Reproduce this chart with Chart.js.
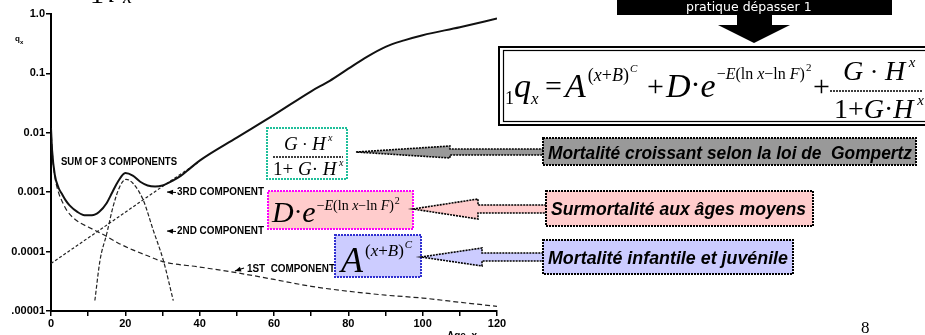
<!DOCTYPE html>
<html>
<head>
<meta charset="utf-8">
<script src="https://cdn.jsdelivr.net/npm/chart.js@4.4.1/dist/chart.umd.min.js"></script>
<style>
  html, body { margin: 0; padding: 0; background: #fff; overflow: hidden; }
  canvas { display: block; }
</style>
</head>
<body>
<canvas id="hpChart" width="925" height="335"></canvas>
<script>
// Heligman-Pollard q_x and its three components
const sumAges = [0, 0.3, 1, 2, 3, 4, 5, 7, 9, 11, 13, 15, 16.5, 18, 20, 22, 24, 26, 28, 30, 33, 35, 37, 40, 50, 60, 70, 75, 80, 85, 90, 95, 100, 110, 120];
const sumQx = [0.012, 0.005, 0.002, 0.0012, 0.00092, 0.00072, 0.0006, 0.00047, 0.00041, 0.00041, 0.00047, 0.00066, 0.001, 0.0015, 0.0021, 0.0019, 0.0015, 0.0013, 0.00125, 0.0013, 0.0016, 0.0019, 0.0024, 0.0034, 0.0083, 0.02, 0.05, 0.075, 0.12, 0.19, 0.28, 0.36, 0.44, 0.6, 0.84];

const firstAges = [0, 0.3, 1, 2, 3, 4.2, 6, 8, 10, 12.3, 15, 18, 22, 26, 30, 40, 50, 60, 70, 80, 90, 100, 110, 120];
const firstQx = [0.012, 0.005, 0.0019, 0.001, 0.0007, 0.0005, 0.00037, 0.0003, 0.00026, 0.00022, 0.00018, 0.00014, 0.000107, 0.000085, 0.000068, 0.000055, 0.000044, 0.000034, 0.000026, 0.0000215, 0.0000185, 0.0000165, 0.000014, 0.000012];

const secondAges = [11.8, 13.2, 15, 16.7, 18.5, 20.2, 22.1, 24.8, 27.5, 30.2, 32.9];
const secondQx = [0.000015, 0.000072, 0.0002, 0.00057, 0.00124, 0.00165, 0.0014, 0.00074, 0.00023, 0.000072, 0.000015];

const thirdAges = [0, 10, 20, 30, 40];
const thirdQx = [0.000063, 0.00017, 0.00046, 0.00125, 0.0033];

const yTickValues = [1, 0.1, 0.01, 0.001, 0.0001, 0.00001];
const yTickLabels = ["1.0", "0.1", "0.01", "0.001", "0.0001", ".00001"];

const toPoints = (xs, ys) => xs.map((x, i) => ({ x: x, y: ys[i] }));

const SANS = '"Liberation Sans", Arial, sans-serif';
const SERIF = '"Liberation Serif", "Times New Roman", serif';

function put(ctx, text, x, y, font, color) {
  ctx.font = font;
  ctx.fillStyle = color || "#000";
  ctx.fillText(text, x, y);
}

// draw a row of text pieces one after another; run = [text, font, dy]
function runs(ctx, x, y, list) {
  ctx.fillStyle = "#000";
  list.forEach((r) => {
    ctx.font = r[1] + " " + SERIF;
    ctx.fillText(r[0], x, y + (r[2] || 0));
    x += ctx.measureText(r[0]).width;
  });
  return x;
}

function dashedBox(ctx, x, y, w, h, fill, stroke, dash) {
  if (fill) { ctx.fillStyle = fill; ctx.fillRect(x, y, w, h); }
  ctx.save();
  ctx.setLineDash(dash || [2, 1]);
  ctx.lineWidth = 2;
  ctx.strokeStyle = stroke;
  ctx.strokeRect(x, y, w, h);
  ctx.restore();
}

function dashedLine(ctx, x1, x2, y) {
  ctx.save();
  ctx.setLineDash([2, 1]);
  ctx.lineWidth = 1.3;
  ctx.strokeStyle = "#000";
  ctx.beginPath(); ctx.moveTo(x1, y); ctx.lineTo(x2, y); ctx.stroke();
  ctx.restore();
}

// block arrow pointing left: tip, head base x, half heights, shaft end
function blockArrow(ctx, tipX, tipY, headX, headHalf, shaftHalf, endX, fill) {
  ctx.save();
  ctx.beginPath();
  ctx.moveTo(tipX, tipY);
  ctx.lineTo(headX, tipY - headHalf);
  ctx.lineTo(headX, tipY - shaftHalf);
  ctx.lineTo(endX, tipY - shaftHalf);
  ctx.lineTo(endX, tipY + shaftHalf);
  ctx.lineTo(headX, tipY + shaftHalf);
  ctx.lineTo(headX, tipY + headHalf);
  ctx.closePath();
  ctx.fillStyle = fill;
  ctx.fill();
  ctx.setLineDash([2, 1]);
  ctx.lineWidth = 1.6;
  ctx.strokeStyle = "#000";
  ctx.stroke();
  ctx.restore();
}

function smallArrow(ctx, tipX, tipY, dx, dy) {
  // little arrow used for the component labels
  const len = Math.hypot(dx, dy), ux = dx / len, uy = dy / len;
  ctx.save();
  ctx.strokeStyle = "#000";
  ctx.fillStyle = "#000";
  ctx.lineWidth = 1.2;
  ctx.beginPath();
  ctx.moveTo(tipX, tipY);
  ctx.lineTo(tipX + dx, tipY + dy);
  ctx.stroke();
  ctx.beginPath();
  ctx.moveTo(tipX, tipY);
  ctx.lineTo(tipX + ux * 6 - uy * 2.5, tipY + uy * 6 + ux * 2.5);
  ctx.lineTo(tipX + ux * 6 + uy * 2.5, tipY + uy * 6 - ux * 2.5);
  ctx.closePath();
  ctx.fill();
  ctx.restore();
}

const annotations = {
  id: "annotations",
  afterDraw(chart) {
    const ctx = chart.ctx;
    ctx.save();
    ctx.textBaseline = "alphabetic";

    // cut-off title and axis names
    put(ctx, "1", 90, 3, "28px " + SERIF);
    put(ctx, "q", 101, -4, "italic 30px " + SERIF);
    put(ctx, "x", 123, 3, "italic 20px " + SERIF);
    put(ctx, "q", 15, 41, "bold 8px " + SANS);
    put(ctx, "x", 20, 44, "bold 6px " + SANS);
    ctx.font = "bold 10px " + SANS;
    ctx.fillText("Age  x", 447, 339, 30);

    // component labels in the plot
    ctx.font = "bold 10px " + SANS;
    ctx.fillText("SUM OF 3 COMPONENTS", 61, 165, 116);
    ctx.fillText("3RD COMPONENT", 177, 195, 87);
    ctx.fillText("2ND COMPONENT", 177, 234, 87);
    ctx.fillText("1ST  COMPONENT", 247, 272, 88);
    smallArrow(ctx, 167, 192, 9, 0.5);
    smallArrow(ctx, 167, 231, 9, 0.5);
    smallArrow(ctx, 235, 271, 9, -3);

    // black banner + down arrow at the top right
    ctx.fillStyle = "#000";
    ctx.fillRect(617, 0, 275, 15);
    put(ctx, "pratique dépasser 1", 686, 11, "12.5px " + '"DejaVu Sans", Verdana, sans-serif', "#fff");
    ctx.fillStyle = "#000";
    ctx.fillRect(737, 15, 35, 11);
    ctx.beginPath();
    ctx.moveTo(718, 25); ctx.lineTo(790, 25); ctx.lineTo(754, 43); ctx.closePath();
    ctx.fill();

    // formula box with double border
    ctx.fillStyle = "#fff";
    ctx.fillRect(498, 46, 430, 80);
    ctx.strokeStyle = "#000";
    ctx.lineWidth = 2;
    ctx.strokeRect(499, 47, 440, 78);
    ctx.lineWidth = 1.2;
    ctx.strokeRect(503.5, 50.5, 440, 71);

    runs(ctx, 505, 97, [["1", "18px", 7], ["q", "italic 34px"], ["x", "italic 17px", 7]]);
    put(ctx, "=", 545, 96, "30px " + SERIF);
    let ex = runs(ctx, 565, 97, [["A", "italic 34px"]]);
    ex = runs(ctx, ex + 2, 81, [["(", "18px"], ["x", "italic 18px"], ["+", "18px"], ["B", "italic 18px"], [")", "18px"]]);
    runs(ctx, ex + 1, 72, [["C", "italic 11px"]]);
    put(ctx, "+", 647, 96, "30px " + SERIF);
    ex = runs(ctx, 666, 97, [["D", "italic 34px"], ["·", "30px", -3], ["e", "italic 34px"]]);
    ex = runs(ctx, ex + 1, 79, [["−", "16px"], ["E", "italic 16px"], ["(", "16px"], ["ln ", "16px"], ["x", "italic 16px"], ["−", "16px"], ["ln ", "16px"], ["F", "italic 16px"], [")", "16px"]]);
    runs(ctx, ex + 1, 71, [["2", "11px"]]);
    put(ctx, "+", 813, 96, "30px " + SERIF);
    runs(ctx, 843, 80, [["G", "italic 28px"], [" · ", "26px"], ["H", "italic 28px"], [" x", "italic 15px", -13]]);
    dashedLine(ctx, 830, 922, 91);
    runs(ctx, 834, 118, [["1+", "28px"], ["G", "italic 28px"], ["·", "28px"], ["H", "italic 28px"], [" x", "italic 15px", -13]]);

    // component formula boxes
    dashedBox(ctx, 267, 128, 80, 51, "#fff", "#1fbf9a");
    runs(ctx, 284, 150, [["G", "italic 19px"], [" · ", "17px"], ["H", "italic 19px"], [" x", "italic 10px", -9]]);
    dashedLine(ctx, 273, 343, 157);
    runs(ctx, 273, 175, [["1+ ", "19px"], ["G", "italic 19px"], ["· ", "19px"], ["H", "italic 19px"], [" x", "italic 10px", -9]]);

    dashedBox(ctx, 268, 191, 145, 38, "#ffcccc", "#ff00ff");
    ex = runs(ctx, 272, 222, [["D", "italic 30px"], ["·", "26px", -2], ["e", "italic 30px"]]);
    ex = runs(ctx, ex + 1, 210, [["−", "14px"], ["E", "italic 14px"], ["(", "14px"], ["ln ", "14px"], ["x", "italic 14px"], ["−", "14px"], ["ln ", "14px"], ["F", "italic 14px"], [")", "14px"]]);
    runs(ctx, ex + 1, 204, [["2", "10px"]]);

    dashedBox(ctx, 335, 235, 86, 42, "#ccccff", "#2f2fd0");
    ex = runs(ctx, 341, 272, [["A", "italic 36px"]]);
    ex = runs(ctx, ex + 2, 256, [["(", "17px"], ["x", "italic 17px"], ["+", "17px"], ["B", "italic 17px"], [")", "17px"]]);
    runs(ctx, ex + 1, 248, [["C", "italic 11px"]]);

    // block arrows and description boxes
    blockArrow(ctx, 356, 152, 450, 6, 3, 545, "#999999");
    blockArrow(ctx, 413, 209, 478, 10, 4, 548, "#ffcccc");
    blockArrow(ctx, 421, 257, 482, 9, 4, 545, "#ccccff");

    dashedBox(ctx, 543, 138, 373, 27, "#999999", "#000");
    dashedBox(ctx, 546, 191, 267, 35, "#ffcccc", "#000");
    dashedBox(ctx, 543, 240, 250, 34, "#ccccff", "#000");
    ctx.fillStyle = "#000";
    ctx.font = "italic bold 18px " + SANS;
    ctx.fillText("Mortalité croissant selon la loi de  Gompertz", 548, 159, 364);
    ctx.fillText("Surmortalité aux âges moyens", 551, 215, 255);
    ctx.fillText("Mortalité infantile et juvénile", 548, 264, 240);

    put(ctx, "8", 861, 333, "17px " + SERIF);
    ctx.restore();
  }
};

new Chart(document.getElementById("hpChart"), {
  type: "line",
  data: {
    datasets: [
      { label: "Sum of 3 components", data: toPoints(sumAges, sumQx), borderColor: "#111", borderWidth: 2, pointRadius: 0, cubicInterpolationMode: "monotone", order: 0 },
      { label: "1st component", data: toPoints(firstAges, firstQx), borderColor: "#222", borderWidth: 1.2, borderDash: [5, 3], pointRadius: 0, cubicInterpolationMode: "monotone", order: 1 },
      { label: "2nd component", data: toPoints(secondAges, secondQx), borderColor: "#222", borderWidth: 1.2, borderDash: [4, 2], pointRadius: 0, cubicInterpolationMode: "monotone", order: 1 },
      { label: "3rd component", data: toPoints(thirdAges, thirdQx), borderColor: "#222", borderWidth: 1.2, borderDash: [3, 2], pointRadius: 0, cubicInterpolationMode: "monotone", order: 1 }
    ]
  },
  options: {
    responsive: false,
    animation: false,
    layout: { padding: { left: 0, top: 14, right: 428, bottom: 0 } },
    plugins: { legend: { display: false }, tooltip: { enabled: false } },
    scales: {
      x: {
        type: "linear",
        min: 0,
        max: 120,
        afterFit: (scale) => { scale.height = 24; },
        border: { color: "#000", width: 2 },
        grid: { drawOnChartArea: false, drawTicks: true, tickLength: 5, color: "#000", lineWidth: 1.5 },
        ticks: {
          stepSize: 10,
          padding: 1,
          color: "#000",
          font: { family: SANS, size: 11, weight: "bold" },
          callback: (v) => (v % 20 === 0 ? String(v) : "")
        }
      },
      y: {
        type: "logarithmic",
        min: 0.00001,
        max: 1,
        afterFit: (scale) => { scale.width = 51; },
        afterBuildTicks: (scale) => { scale.ticks = yTickValues.map((v) => ({ value: v })); },
        border: { color: "#000", width: 2 },
        grid: { drawOnChartArea: false, drawTicks: true, tickLength: 5, color: "#000", lineWidth: 1.5 },
        ticks: {
          padding: 1,
          color: "#000",
          font: { family: SANS, size: 11, weight: "bold" },
          callback: (v) => {
            const i = yTickValues.indexOf(v);
            return i >= 0 ? yTickLabels[i] : "";
          }
        }
      }
    }
  },
  plugins: [annotations]
});
</script>
</body>
</html>
